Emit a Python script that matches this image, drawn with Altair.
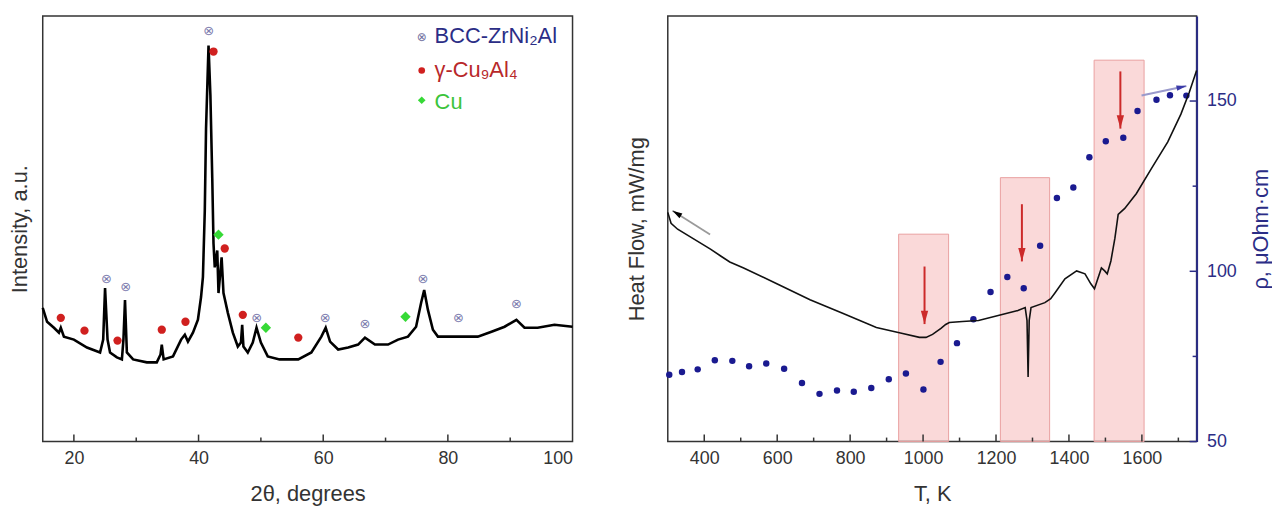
import altair as alt
import pandas as pd

FONT = "Arial, Liberation Sans, sans-serif"

# ---------------- XRD (left panel) ----------------
xrd_2theta = [15.0, 15.7, 16.8, 17.6, 17.9, 18.4, 20.0, 22.1, 24.2, 24.7, 25.0, 25.4, 25.8,
              26.9, 27.7, 27.95, 28.2, 28.5, 29.5, 31.7, 33.3, 33.9, 34.1, 34.4, 35.9, 37.2,
              37.8, 38.3, 39.1, 39.9, 40.4, 40.7, 41.0, 41.2, 41.6, 41.9, 42.2, 42.4, 42.6,
              43.0, 43.2, 43.7, 44.0, 44.7, 45.5, 46.3, 46.8, 47.0, 47.2, 47.9, 48.7, 49.3,
              50.0, 51.1, 53.0, 56.0, 58.1, 59.7, 60.4, 61.1, 62.4, 64.0, 65.6, 66.7, 68.3,
              70.4, 72.0, 73.6, 74.9, 75.7, 76.2, 76.8, 77.6, 78.4, 80.5, 82.7, 84.8, 87.0,
              89.1, 91.0, 92.3, 94.4, 97.1, 100.0]
xrd_intensity = [135, 121, 115, 110, 115, 106, 103, 95, 90, 103, 155, 103, 90,
                 85, 83, 103, 143, 90, 83, 80, 80, 88, 98, 83, 86, 103,
                 108, 101, 110, 123, 146, 166, 233, 316, 400, 350, 266, 200, 176,
                 193, 150, 186, 150, 130, 110, 96, 100, 118, 96, 90, 100, 115,
                 100, 86, 83, 83, 90, 106, 115, 101, 93, 95, 98, 105, 98,
                 98, 103, 106, 116, 140, 153, 133, 113, 106, 106, 106, 106, 111,
                 116, 123, 115, 115, 118, 116]

bcc_2theta = [25.2, 28.3, 41.6, 49.3, 60.3, 66.7, 76.0, 81.7, 91.0]
bcc_int = [164, 156, 415, 125, 125, 119, 164, 125, 139]
cual_2theta = [17.9, 21.7, 27.0, 34.1, 37.9, 42.4, 44.2, 47.1, 56.0]
cual_int = [125, 112, 102, 113, 121, 394, 195, 128, 105]
cu_2theta = [43.2, 50.8, 73.2]
cu_int = [209, 115, 126]

legend_labels = ["BCC-ZrNi\u2082Al", "\u03b3-Cu\u2089Al\u2084", "Cu"]
xrd_major_ticks = [20, 40, 60, 80]
xrd_minor_ticks = [30, 50, 70, 90]
xrd_label_values = [20, 40, 60, 80, 100]

# ---------------- DSC + resistivity (right panel) ----------------
dsc_T = [300, 309, 327, 372, 417, 445, 470, 508, 599, 690, 781, 872, 944, 990, 1008, 1026,
         1049, 1062, 1072, 1108, 1152, 1206, 1260, 1280, 1285, 1288, 1291, 1296, 1334, 1350,
         1362, 1389, 1421, 1444, 1460, 1470, 1480, 1489, 1498, 1505, 1515, 1526, 1535, 1553,
         1585, 1626, 1671, 1707, 1730, 1750]
dsc_hf = [231, 220, 214, 204, 194, 187, 181, 175, 159, 143, 129, 115, 109, 105, 105, 108,
          114, 118, 120, 121, 122, 127, 132, 135, 122, 65, 122, 135, 140, 144,
          150, 164, 172, 169, 159, 154, 165, 175, 172, 169, 182, 205, 229, 235,
          250, 275, 302, 330, 352, 374]

rho_T = [304, 339, 382, 429, 477, 523, 570, 619, 668, 716, 764, 810, 858, 906, 953, 1001,
         1048, 1093, 1138, 1185, 1231, 1276, 1321, 1367, 1412, 1456, 1501, 1549, 1588, 1640,
         1677, 1722]
rho_val = [69.6, 70.4, 71.2, 73.9, 73.7, 72.1, 72.9, 71.4, 67.2, 64.0, 65.0, 64.6, 65.7, 68.3,
           70.0, 65.3, 73.4, 78.9, 85.9, 93.9, 98.3, 95.0, 107.5, 121.5, 124.6, 133.5, 138.2,
           139.2, 147.1, 150.4, 151.7, 151.6]

band_T_start = [933, 1212, 1469]
band_T_end = [1070, 1347, 1606]
band_top = [110.9, 127.5, 162.0]

red_arrow_T = [1004, 1271, 1541]
red_arrow_top = [101.4, 119.7, 158.7]
red_arrow_tip = [84.5, 102.9, 141.9]

hf_arrow_T = [416, 313]      # tail, head
hf_arrow_v = [208.7, 232.7]
rho_arrow_T = [1599, 1722]   # tail, head
rho_arrow_v = [151.6, 154.4]

dsc_major_ticks = [400, 600, 800, 1000, 1200, 1400, 1600]
dsc_minor_ticks = [500, 700, 900, 1100, 1300, 1500, 1700]
rho_major_ticks = [50, 100, 150]
rho_minor_ticks = [75, 125]

NAVY = "#2B2D86"
HEAD = "M-0.55,-2L0.55,-2L0,0Z"
LABEL_SIZE = 18
TITLE_SIZE = 22

# ================= left panel =================
W1, H1 = 534, 429
xs1 = alt.Scale(domain=[15, 100], nice=False, zero=False)
ys1 = alt.Scale(domain=[0, 430], nice=False, zero=False)
ax1x = alt.Axis(title="2\u03b8, degrees", values=xrd_label_values, ticks=False, domain=False,
                labelPadding=8, titlePadding=16, grid=False, format="d")
ax1y = alt.Axis(title="Intensity, a.u.", labels=False, ticks=False, domain=False,
                titlePadding=11, grid=False)


def X1(f):
    return alt.X(f, type="quantitative", scale=xs1, axis=ax1x)


def Y1(f):
    return alt.Y(f, type="quantitative", scale=ys1, axis=ax1y)


xrd_df = pd.DataFrame({"t": xrd_2theta, "i": xrd_intensity})
trace = alt.Chart(xrd_df).mark_line(color="black", strokeWidth=2.6).encode(x=X1("t"), y=Y1("i"))

maj1 = alt.Chart(pd.DataFrame({"t": xrd_major_ticks})).mark_rule(color="#333", strokeWidth=1.5).encode(
    x=X1("t"), y=alt.value(H1), y2=alt.value(H1 - 7))
min1 = alt.Chart(pd.DataFrame({"t": xrd_minor_ticks})).mark_rule(color="#333", strokeWidth=1.5).encode(
    x=X1("t"), y=alt.value(H1), y2=alt.value(H1 - 4))

bcc = alt.Chart(pd.DataFrame({"t": bcc_2theta, "i": bcc_int})).mark_text(
    text="\u2297", font="DejaVu Sans", fontSize=13, color="#7C7CAE").encode(x=X1("t"), y=Y1("i"))
cual = alt.Chart(pd.DataFrame({"t": cual_2theta, "i": cual_int})).mark_circle(
    size=70, color="#D0201F", opacity=1).encode(x=X1("t"), y=Y1("i"))
cu = alt.Chart(pd.DataFrame({"t": cu_2theta, "i": cu_int})).mark_point(
    shape="diamond", filled=True, size=110, color="#36D936", opacity=1).encode(x=X1("t"), y=Y1("i"))

leg_colors = [NAVY, "#B8282A", "#3CC43C"]
leg_y = [20, 55, 87]
legend_layers = []
for k in range(3):
    legend_layers.append(
        alt.Chart(pd.DataFrame({"label": [legend_labels[k]]})).mark_text(
            align="left", baseline="middle", font=FONT, fontSize=22, color=leg_colors[k]).encode(
            x=alt.value(395), y=alt.value(leg_y[k]), text="label:N"))
leg_m0 = alt.Chart(pd.DataFrame({"label": [legend_labels[0]]})).mark_text(
    text="\u2297", font="DejaVu Sans", fontSize=12, color="#6E6E9E").encode(
    x=alt.value(382), y=alt.value(leg_y[0] + 1))
leg_m1 = alt.Chart(pd.DataFrame({"label": [legend_labels[1]]})).mark_circle(
    size=45, color="#D0201F", opacity=1).encode(x=alt.value(382), y=alt.value(leg_y[1]))
leg_m2 = alt.Chart(pd.DataFrame({"label": [legend_labels[2]]})).mark_point(
    shape="diamond", filled=True, size=60, color="#36D936", opacity=1).encode(
    x=alt.value(382), y=alt.value(leg_y[2] - 2))

left = alt.layer(trace, maj1, min1, bcc, cual, cu, leg_m0, leg_m1, leg_m2, *legend_layers).properties(
    width=W1, height=H1)

# ================= right panel =================
W2, H2 = 533, 429
xs2 = alt.Scale(domain=[300, 1750], nice=False, zero=False)
rs = alt.Scale(domain=[50, 175], nice=False, zero=False)
hs = alt.Scale(domain=[0, 429], nice=False, zero=False)
ax2x = alt.Axis(title="T, K", values=dsc_major_ticks, ticks=False, domain=False,
                labelPadding=8, titlePadding=16, grid=False, format="d")
ax2r = alt.Axis(orient="right", title="\u03c1, \u03bcOhm\u00b7cm", values=rho_major_ticks, ticks=False,
                domainColor=NAVY, domainWidth=2, labelColor=NAVY, titleColor=NAVY,
                labelPadding=10, titlePadding=14, titleAngle=270, titleBaseline="top",
                grid=False, format="d")
ax2h = alt.Axis(orient="left", title="Heat Flow, mW/mg", labels=False, ticks=False, domain=False,
                titlePadding=19, grid=False)


def X2(f):
    return alt.X(f, type="quantitative", scale=xs2, axis=ax2x)


def R(f):
    return alt.Y(f, type="quantitative", scale=rs, axis=ax2r)


def HF(f):
    return alt.Y(f, type="quantitative", scale=hs, axis=ax2h)


bands = alt.Chart(pd.DataFrame({"a": band_T_start, "b": band_T_end, "top": band_top})).mark_rect(
    fill="#F08A8A", fillOpacity=0.32, stroke="#E9A0A0", strokeWidth=1).encode(
    x=X2("a"), x2="b:Q", y=R("top"), y2=alt.value(H2))
rarrow_df = pd.DataFrame({"T": red_arrow_T, "top": red_arrow_top, "tip": red_arrow_tip})
rshaft = alt.Chart(rarrow_df).mark_rule(color="#CC2A2A", strokeWidth=2).encode(
    x=X2("T"), y=R("top"), y2="tip:Q")
rhead = alt.Chart(rarrow_df).mark_point(shape=HEAD, filled=True, size=180, color="#CC2A2A",
                                        opacity=1, strokeWidth=0).encode(x=X2("T"), y=R("tip"))
dots = alt.Chart(pd.DataFrame({"T": rho_T, "r": rho_val})).mark_circle(
    size=42, color="#1A1A90", opacity=1).encode(x=X2("T"), y=R("r"))
barrow = alt.Chart(pd.DataFrame({"T": [rho_arrow_T[0]], "T2": [rho_arrow_T[1]],
                                 "v": [rho_arrow_v[0]], "v2": [rho_arrow_v[1]]})).mark_rule(
    color="#9A9ACC", strokeWidth=2).encode(x=X2("T"), x2="T2:Q", y=R("v"), y2="v2:Q")
bhead = alt.Chart(pd.DataFrame({"T": [rho_arrow_T[1]], "v": [rho_arrow_v[1]]})).mark_point(
    shape=HEAD, filled=True, size=100, color="#3A3AA8", opacity=1, strokeWidth=0, angle=258).encode(
    x=X2("T"), y=R("v"))
rmaj = alt.Chart(pd.DataFrame({"r": rho_major_ticks})).mark_rule(color=NAVY, strokeWidth=1.5).encode(
    y=R("r"), x=alt.value(W2), x2=alt.value(W2 - 7))
rmin = alt.Chart(pd.DataFrame({"r": rho_minor_ticks})).mark_rule(color=NAVY, strokeWidth=1.5).encode(
    y=R("r"), x=alt.value(W2), x2=alt.value(W2 - 4))
xmaj2 = alt.Chart(pd.DataFrame({"t": dsc_major_ticks})).mark_rule(color="#333", strokeWidth=1.5).encode(
    x=X2("t"), y=alt.value(H2), y2=alt.value(H2 - 7))
xmin2 = alt.Chart(pd.DataFrame({"t": dsc_minor_ticks})).mark_rule(color="#333", strokeWidth=1.5).encode(
    x=X2("t"), y=alt.value(H2), y2=alt.value(H2 - 4))

rho_group = alt.layer(bands, rshaft, rhead, dots, barrow, bhead, rmaj, rmin, xmaj2, xmin2)

dsc_line = alt.Chart(pd.DataFrame({"T": dsc_T, "h": dsc_hf})).mark_line(
    color="#111", strokeWidth=1.6).encode(x=X2("T"), y=HF("h"))
karrow = alt.Chart(pd.DataFrame({"T": [hf_arrow_T[0]], "T2": [hf_arrow_T[1]],
                                 "v": [hf_arrow_v[0]], "v2": [hf_arrow_v[1]]})).mark_rule(
    color="#9A9A9A", strokeWidth=1.8).encode(x=X2("T"), x2="T2:Q", y=HF("v"), y2="v2:Q")
khead = alt.Chart(pd.DataFrame({"T": [hf_arrow_T[1]], "v": [hf_arrow_v[1]]})).mark_point(
    shape=HEAD, filled=True, size=100, color="black", opacity=1, strokeWidth=0, angle=122).encode(
    x=X2("T"), y=HF("v"))

hf_group = alt.layer(dsc_line, karrow, khead)

right = alt.layer(rho_group, hf_group).resolve_scale(y="independent").properties(width=W2, height=H2)

chart = alt.hconcat(left, right, spacing=47).properties(
    padding={"left": 0, "top": 5, "right": 0, "bottom": 0}
).configure_view(stroke="#333", strokeWidth=1.5).configure_axis(
    labelFont=FONT, titleFont=FONT, labelFontSize=LABEL_SIZE, titleFontSize=TITLE_SIZE,
    labelColor="#333", titleColor="#333", titleFontWeight="normal"
)

chart.save("out.html", embed_options={"renderer": "svg", "actions": False})
